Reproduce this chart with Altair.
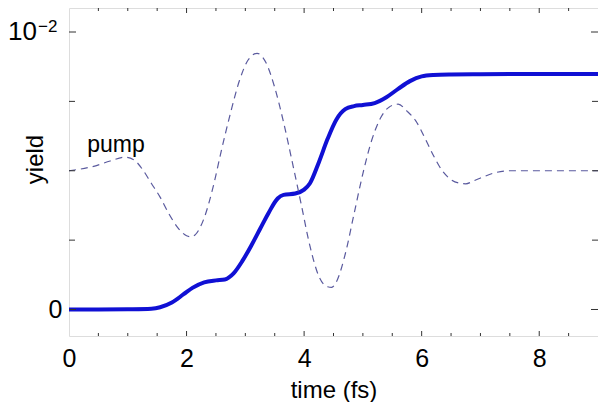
import altair as alt
import pandas as pd

# ---- data (yield and pump in units of 1e-2) ----
yield_t = [0, 0.5, 1.0, 1.4, 1.55, 1.75, 1.95, 2.1, 2.3, 2.5, 2.65, 2.8, 2.95, 3.1,
           3.25, 3.4, 3.55, 3.65, 3.85, 4.0, 4.1, 4.25, 4.4, 4.55, 4.7, 4.85, 5.0,
           5.2, 5.4, 5.6, 5.8, 6.0, 6.2, 6.5, 7.0, 8.0, 9.0]
yield_v = [0, 0, 0.001, 0.003, 0.008, 0.025, 0.055, 0.078, 0.098, 0.105, 0.108, 0.13,
           0.175, 0.23, 0.29, 0.35, 0.40, 0.413, 0.418, 0.432, 0.455, 0.53, 0.615,
           0.685, 0.722, 0.733, 0.737, 0.744, 0.765, 0.795, 0.823, 0.84, 0.845,
           0.847, 0.848, 0.849, 0.849]

pump_t = [0, 0.4, 0.7, 0.95, 1.1, 1.25, 1.4, 1.55, 1.7, 1.85, 2.0, 2.07, 2.15, 2.3,
          2.45, 2.6, 2.75, 2.9, 3.05, 3.2, 3.35, 3.5, 3.65, 3.8, 3.95, 4.1, 4.25,
          4.4, 4.47, 4.55, 4.7, 4.85, 5.0, 5.15, 5.3, 5.45, 5.6, 5.75, 5.9, 6.05,
          6.2, 6.35, 6.5, 6.65, 6.75, 6.9, 7.05, 7.25, 7.5, 8.0, 9.0]
pump_v = [0.5, 0.515, 0.535, 0.549, 0.54, 0.505, 0.455, 0.405, 0.345, 0.295, 0.266,
          0.262, 0.27, 0.33, 0.44, 0.58, 0.71, 0.825, 0.9, 0.923, 0.89, 0.8, 0.675,
          0.53, 0.38, 0.228, 0.12, 0.082, 0.08, 0.1, 0.2, 0.345, 0.49, 0.61, 0.69,
          0.73, 0.74, 0.715, 0.68, 0.62, 0.555, 0.5, 0.468, 0.455, 0.453, 0.465,
          0.478, 0.493, 0.5, 0.5, 0.5]

label_text = ["pump"]
label_t = [0.31]
label_v = [0.569]

x_label_values = [0, 2, 4, 6, 8]
y_label_values = [0]
pow_base = ["10"]
pow_exp = ["\u22122"]
pow_value = [0.01]
x_major_ticks = [2, 4, 6, 8]
x_minor_ticks = [0.5, 1, 1.5, 2.5, 3, 3.5, 4.5, 5, 5.5, 6.5, 7, 7.5, 8.5]
y_major_ticks = [0, 0.01]
y_minor_ticks = [0.0025, 0.005, 0.0075]

W, H = 529, 328
FONT = "Liberation Sans"

xs = alt.Scale(domain=[0, 9], nice=False, zero=False)
ys = alt.Scale(domain=[-0.000955, 0.010865], nice=False, zero=False)

df_yield = pd.DataFrame({"t": yield_t, "v": [v * 0.01 for v in yield_v]})
df_pump = pd.DataFrame({"t": pump_t, "v": [v * 0.01 for v in pump_v]})
df_label = pd.DataFrame({"t": label_t, "v": [v * 0.01 for v in label_v], "txt": label_text})
df_pow = pd.DataFrame({"v": pow_value, "base": pow_base, "exp": pow_exp})
df_xmaj = pd.DataFrame({"t": x_major_ticks})
df_xmin = pd.DataFrame({"t": x_minor_ticks})
df_ymaj = pd.DataFrame({"v": y_major_ticks})
df_ymin = pd.DataFrame({"v": y_minor_ticks})

x_axis = alt.Axis(values=x_label_values, ticks=False, tickSize=0, domain=False, grid=False,
                  title="time (fs)", labelFont=FONT, labelFontSize=25, labelColor="black",
                  labelPadding=10, titleFont=FONT, titleFontSize=24, titleFontWeight="normal",
                  titleColor="black", titleBaseline="alphabetic", titleY=61,
                  labelFlush=False, labelOverlap=False)
y_axis = alt.Axis(values=y_label_values, ticks=False, tickSize=0, domain=False, grid=False,
                  title="yield", labelFont=FONT, labelFontSize=25, labelColor="black",
                  labelPadding=7, labelExpr="datum.value == 0 ? '0' : ''",
                  titleFont=FONT, titleFontSize=24, titleFontWeight="normal",
                  titleColor="black", titleBaseline="alphabetic", titleAngle=270,
                  titleAlign="center", titleX=-27, titleY=151,
                  labelFlush=False, labelOverlap=False)

X = alt.X("t:Q", scale=xs, axis=x_axis)
Y = alt.Y("v:Q", scale=ys, axis=y_axis)

yld = alt.Chart(df_yield).mark_line(
    color="#1010d4", strokeWidth=4, interpolate="monotone"
).encode(x=X, y=Y)

pump = alt.Chart(df_pump).mark_line(
    color="#5a5a9e", strokeWidth=1.2, strokeDash=[7, 5], interpolate="monotone"
).encode(x=X, y=Y)

txt = alt.Chart(df_label).mark_text(
    font=FONT, fontSize=23, align="left", baseline="alphabetic", color="black"
).encode(x=X, y=Y, text="txt:N")

# "10^-2" tick label built from a base and a raised exponent
pow_base_mark = alt.Chart(df_pow).mark_text(
    font=FONT, fontSize=26, align="right", baseline="middle", color="black"
).encode(y=Y, x=alt.value(-32), text="base:N")
pow_exp_mark = alt.Chart(df_pow).mark_text(
    font=FONT, fontSize=17, align="left", baseline="alphabetic", color="black"
).encode(y=Y, x=alt.value(-31), text="exp:N")

tick_color = "#333333"

def xticks(df, length):
    bottom = alt.Chart(df).mark_rule(color=tick_color, strokeWidth=1).encode(
        x=X, y=alt.value(H), y2=alt.value(H - length))
    top = alt.Chart(df).mark_rule(color=tick_color, strokeWidth=1).encode(
        x=X, y=alt.value(0), y2=alt.value(length))
    return [bottom, top]

def yticks(df, length):
    left = alt.Chart(df).mark_rule(color=tick_color, strokeWidth=1).encode(
        y=Y, x=alt.value(0), x2=alt.value(length))
    right = alt.Chart(df).mark_rule(color=tick_color, strokeWidth=1).encode(
        y=Y, x=alt.value(W), x2=alt.value(W - length))
    return [left, right]

layers = ([yld, pump, txt, pow_base_mark, pow_exp_mark]
          + xticks(df_xmaj, 5) + xticks(df_xmin, 3)
          + yticks(df_ymaj, 7) + yticks(df_ymin, 6))

chart = alt.layer(*layers).properties(
    width=W, height=H,
    autosize=alt.AutoSizeParams(type="none"),
    padding={"left": 61, "top": 0, "right": 0, "bottom": 66},
).configure_view(stroke="#222222", strokeWidth=1.2).configure(background="white")

chart.save("out.html", embed_options={"renderer": "svg", "actions": False})
